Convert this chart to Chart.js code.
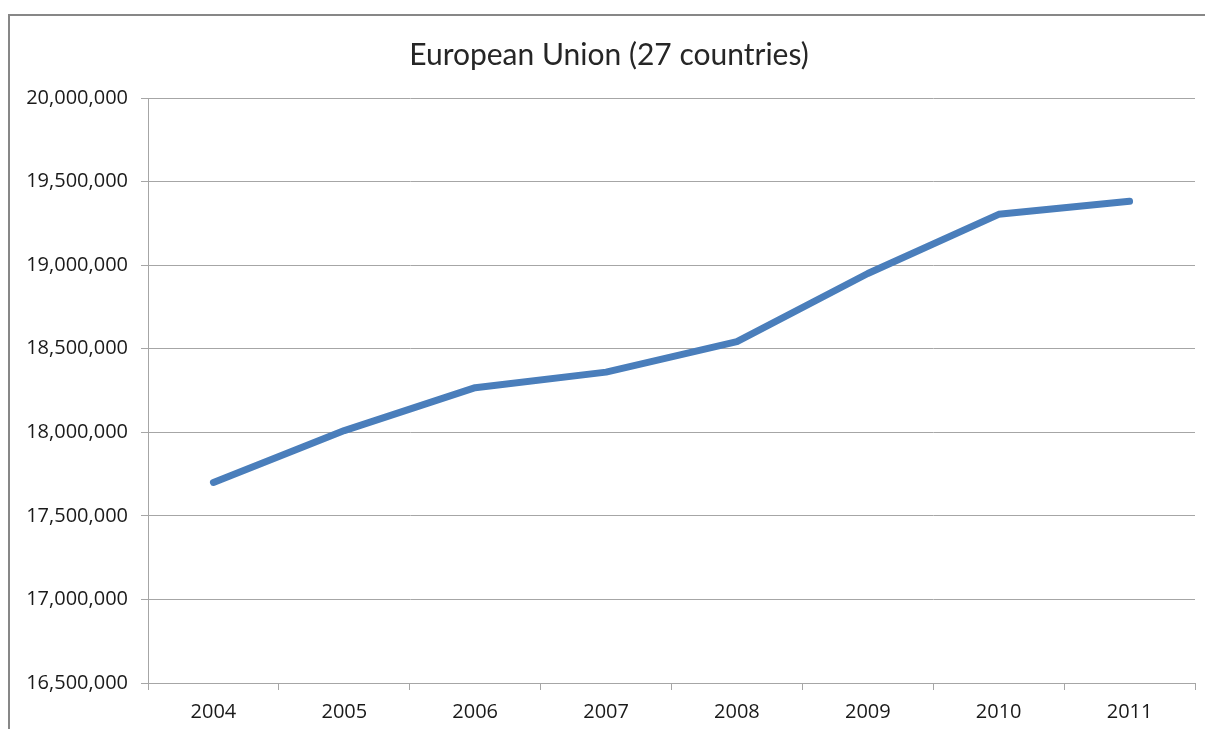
<!DOCTYPE html>
<html>
<head>
<meta charset="utf-8">
<script src="https://cdn.jsdelivr.net/npm/chart.js@4"></script>
<style>
  html, body { margin: 0; padding: 0; background: #fff; overflow: hidden; }
  #frame {
    position: absolute; left: 8px; top: 14px; width: 1400px; height: 900px;
    border: 2px solid #878787; box-sizing: border-box;
  }
  #wrap { position: absolute; left: 0; top: 0; width: 1205px; height: 729px; }
</style>
</head>
<body>
<div id="frame"></div>
<div id="wrap"><canvas id="chart"></canvas></div>
<script>
  // Данные графика
  const years = ["2004", "2005", "2006", "2007", "2008", "2009", "2010", "2011"];
  const population = [17700000, 18010000, 18267000, 18360000, 18542000, 18950000, 19304000, 19382000];
  const yTicks = [16500000, 17000000, 17500000, 18000000, 18500000, 19000000, 19500000, 20000000];

  const ctx = document.getElementById("chart");

  const data = {
    labels: years,
    datasets: [
      {
        label: "European Union (27 countries)",
        data: population,
        borderColor: "#4a7ebb",
        borderWidth: 7,
        borderCapStyle: "round",
        borderJoinStyle: "round",
        pointRadius: 0,
        tension: 0,
        fill: false,
      },
    ],
  };

  const config = {
    type: "line",
    data: data,
    options: {
      responsive: true,
      maintainAspectRatio: false,
      animation: false,
      layout: {
        padding: { left: 23, right: 10, top: 37, bottom: 0 },
      },
      plugins: {
        legend: { display: false },
        tooltip: { enabled: false },
        title: {
          display: true,
          text: "European Union (27 countries)",
          color: "#262626",
          font: { family: "Lato", size: 30, weight: "normal" },
          padding: { top: 0, bottom: 25 },
        },
      },
      scales: {
        x: {
          offset: true,
          afterFit: (scale) => { scale.height = 46; },
          grid: {
            offset: true,
            drawOnChartArea: false,
            drawTicks: true,
            tickLength: 7,
            color: "#a6a6a6",
          },
          border: { display: true, color: "#a6a6a6", width: 1 },
          ticks: {
            color: "#1a1a1a",
            padding: 10,
            font: { family: "Open Sans", size: 20 },
            maxRotation: 0,
          },
        },
        y: {
          min: 16500000,
          max: 20000000,
          afterFit: (scale) => { scale.width = 125; },
          afterBuildTicks: (scale) => {
            scale.ticks = yTicks.map((v) => ({ value: v }));
          },
          grid: {
            color: "#a6a6a6",
            lineWidth: 1,
            tickLength: 7,
          },
          border: { display: true, color: "#a6a6a6", width: 1 },
          ticks: {
            color: "#1a1a1a",
            padding: 13,
            font: { family: "Open Sans", size: 20 },
            callback: (v) => v.toLocaleString("en-US"),
          },
        },
      },
    },
  };

  const chart = new Chart(ctx, config);
</script>
</body>
</html>
